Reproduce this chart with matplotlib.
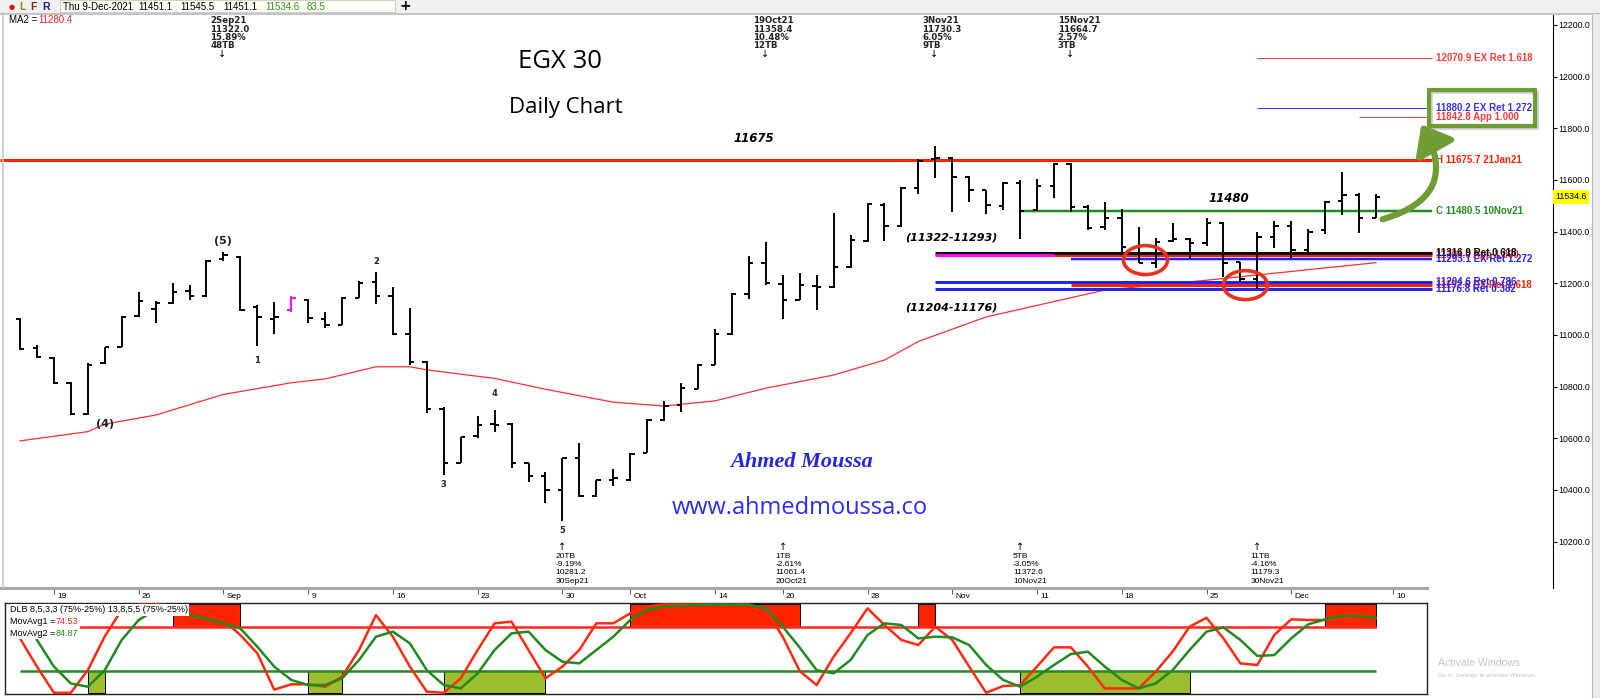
import matplotlib
matplotlib.use("Agg")
import matplotlib.pyplot as plt
from matplotlib.patches import Rectangle, Ellipse, FancyArrowPatch
from matplotlib.lines import Line2D
import matplotlib.transforms as mtransforms
import numpy as np

plt.rcParams['font.family'] = ['DejaVu Sans']

# ---------------- data ----------------
opens = [11060, 10950, 10910, 10815, 10695, 10890, 10955, 11075, 11100, 11125,
         11170, 11150, 11295, 11300, 11110, 11060, 11095, 11135, 11060, 11040,
         11145, 11205, 11150, 11005, 10895, 10715, 10505, 10610, 10655, 10655,
         10505, 10455, 10400, 10525, 10378, 10438, 10440, 10542, 10670, 10729,
         10790, 10885, 11005, 11160, 11280, 11197, 11135, 11190, 11185, 11262,
         11365, 11505, 11420, 11570, 11680, 11685, 11613, 11560, 11500, 11590,
         11482, 11575, 11660, 11497, 11417, 11454, 11342, 11280, 11365, 11372,
         11357, 11435, 11282, 11215, 11380, 11420, 11330, 11406, 11519, 11542,
         11451.1]
highs = [11066, 10961, 10916, 10819, 10890, 10955, 11074, 11165, 11132, 11200,
         11194, 11290, 11322.0, 11306, 11116, 11126, 11152, 11139, 11090, 11148,
         11210, 11245, 11185, 11103, 10899, 10720, 10606, 10686, 10710, 10658,
         10506, 10468, 10525, 10580, 10440, 10480, 10544, 10674, 10746, 10815,
         10887, 11022, 11161, 11306, 11358.4, 11232, 11239, 11232, 11471, 11387,
         11510, 11510, 11572, 11680, 11730.3, 11688, 11615, 11561, 11593, 11600,
         11603, 11667, 11664.7, 11503, 11516, 11487, 11419, 11374, 11432, 11374,
         11454, 11439, 11284, 11400, 11443, 11443, 11409, 11519, 11632, 11551,
         11545.5]
lows = [10942, 10910, 10810, 10690, 10690, 10887, 10952, 11068, 11045, 11120,
        11135, 11148, 11288, 11093, 10958, 11004, 11090, 11045, 11026, 11039,
        11142, 11120, 11000, 10884, 10697, 10458, 10503, 10600, 10626, 10486,
        10430, 10348, 10281.2, 10374, 10374, 10417, 10435, 10542, 10668, 10703,
        10790, 10884, 11000, 11138, 11194, 11061.4, 11135, 11097, 11181, 11258,
        11361, 11365, 11419, 11546, 11607, 11477, 11516, 11468, 11484, 11372.6,
        11481, 11529, 11477, 11406, 11406, 11316, 11277, 11258, 11361, 11293,
        11345, 11226, 11206, 11179.3, 11337, 11298, 11322, 11390, 11465, 11394,
        11451.1]
closes = [10945, 10915, 10815, 10695, 10885, 10952, 11070, 11130, 11125, 11165,
          11150, 11285, 11310, 11095, 11070, 11071, 11143, 11065, 11040, 11145,
          11200, 11150, 11005, 10895, 10715, 10505, 10605, 10650, 10650, 10505,
          10455, 10400, 10522, 10378, 10438, 10445, 10540, 10670, 10725, 10794,
          10885, 11005, 11158, 11280, 11200, 11135, 11194, 11185, 11262, 11368,
          11508, 11423, 11570, 11675, 11686, 11613, 11560, 11503, 11590, 11480.5,
          11575, 11660, 11497, 11413, 11454, 11342, 11280, 11360, 11372, 11357,
          11435, 11280, 11215, 11380, 11422, 11330, 11400, 11515, 11542, 11451.1,
          11534.6]
pink_bar = 16

ma_idx = [0, 4, 5, 8, 12, 16, 18, 21, 23, 24, 28, 31, 35, 38, 41, 44, 48, 51, 53, 57, 64, 70, 80]
ma_val = [10590, 10626, 10655, 10690, 10770, 10815, 10830, 10877, 10877, 10865, 10832, 10790,
          10740, 10725, 10745, 10794, 10845, 10903, 10975, 11070, 11174, 11212, 11280]

tick_idx = [2, 7, 12, 17, 22, 27, 32, 36, 41, 45, 50, 55, 60, 65, 70, 75, 81]
tick_lab = ['19', '26', 'Sep', '9', '16', '23', '30', 'Oct', '14', '20', '28', 'Nov',
            '11', '18', '25', 'Dec', '10']
y_ticks = [10200, 10400, 10600, 10800, 11000, 11200, 11400, 11600, 11800, 12000, 12200]

lvl_price = [12070.9, 11880.2, 11842.8, 11675.7, 11480.5, 11308.0, 11316.9, 11293.1,
             11192.6, 11204.6, 11176.8]
lvl_label = ["12070.9 EX Ret 1.618", "11880.2 EX Ret 1.272", "11842.8 App 1.000",
             "H 11675.7 21Jan21", "C 11480.5 10Nov21", "11308.0 App 1.000",
             "11316.9 Ret 0.618", "11293.1 EX Ret 1.272", "11192.6 EX Ret 1.618",
             "11204.6 Ret 0.786", "11176.8 Ret 0.382"]
lvl_start = [73, 73, 79, -2, 59, 61, 54, 62, 62, 54, 54]
lvl_color = ['#ff3b3b', '#3333ff', '#ff3b3b', '#ff2200', '#1f8f1f', '#ff2200', 'black',
             '#2222ff', '#ff2200', '#2222ff', '#2222ff']
lvl_lw = [1.0, 1.0, 1.0, 3.0, 2.5, 3.0, 3.0, 2.5, 3.0, 3.0, 3.0]
magenta_price = 11308.0
magenta_span = [54, 61]

top_ann_idx = [12, 44, 54, 62]
top_ann_txt = [["2Sep21", "11322.0", "15.89%", "48TB"],
               ["19Oct21", "11358.4", "10.48%", "12TB"],
               ["3Nov21", "11730.3", "6.05%", "9TB"],
               ["15Nov21", "11664.7", "2.57%", "3TB"]]
bot_ann_idx = [32, 45, 59, 73]
bot_ann_txt = [["20TB", "-9.19%", "10281.2", "30Sep21"],
               ["1TB", "-2.61%", "11061.4", "20Oct21"],
               ["5TB", "-3.05%", "11372.6", "10Nov21"],
               ["11TB", "-4.16%", "11179.3", "30Nov21"]]

wave_lab = ["(5)", "(4)", "1", "2", "3", "4", "5"]
wave_idx = [12, 5, 14, 21, 25, 28, 32]
wave_price = [11364, 10655, 10903, 11283, 10423, 10772, 10245]

ellipse_idx = [66.4, 72.3]
ellipse_price = [11290, 11193]

osc1 = [61.8, 30, 0.5, 0.5, 26, 64, 94, 100, 100, 99, 96, 90, 82.5, 65.6, 45, 4, 10, 10, 7.3,
        18.6, 48.7, 88, 63.7, 30, 1.7, 0.5, 16.7, 48.7, 78.8, 80.6, 48.7, 16.7, 30, 48.7, 78.8,
        78.8, 90, 98, 100, 100, 100, 100, 100, 100, 94, 63.7, 25, 9.2, 41, 67.5, 95.7, 76.9,
        60, 54.3, 75, 60, 30, 0.5, 8, 9.2, 30, 51.7, 51.7, 30, 5.4, 5.4, 5.4, 24.2, 46.8, 75,
        85, 61.8, 33.6, 31.8, 65.6, 83.3, 82.5, 82.5, 84, 80, 74.53]
osc2 = [np.nan, 60, 30, 11, 7.3, 26, 60, 82.5, 94, 92, 88, 84, 78.8, 73, 52.4, 30, 15, 9.2,
        9.2, 16.7, 37.4, 63.7, 69.4, 56.2, 26, 9.2, 5.4, 22.4, 48.7, 67.5, 69.4, 48.7, 35.5,
        33.6, 48.7, 63.7, 82.5, 93.8, 97.6, 98.3, 99.4, 100, 100, 99.4, 95.7, 75, 51.5, 26,
        22.4, 37.4, 65.6, 78.8, 76.9, 61.8, 63.7, 63, 54.3, 31.8, 15, 7.3, 18.6, 31.8, 44.2,
        46.8, 30, 15, 5.4, 11, 26, 48.7, 69.4, 74.2, 60, 42, 43, 61.8, 77.6, 83.3, 87.4,
        87.4, 84.87]
upper_lvl, lower_lvl = 75, 25
red_boxes = [(9, 13), (36, 46), (53, 54), (77, 80)]
green_boxes = [(4, 5), (17, 19), (25, 31), (59, 69)]

# ---------------- layout helpers ----------------
W, H = 1600, 698
fig = plt.figure(figsize=(16, 6.98), dpi=100)
fig.patch.set_facecolor('white')
X0, DX = 20.0, 16.95          # pixel of bar 0, pixel per bar
PY0, PPX = 25.0, 3.871        # pixel of 12200, price per pixel


def fx(px):
    return px / W


def fy(py):
    return 1 - py / H


def px2idx(px):
    return (px - X0) / DX


MAIN_T, MAIN_B, MAIN_R = 13, 588, 1553
ax = fig.add_axes([0, fy(MAIN_B), fx(MAIN_R), (MAIN_B - MAIN_T) / H])
ax.set_xlim(px2idx(0), px2idx(MAIN_R))
ax.set_ylim(12200 - (MAIN_B - PY0) * PPX, 12200 + (PY0 - MAIN_T) * PPX)
for s in ['top', 'left', 'bottom']:
    ax.spines[s].set_visible(False)
ax.spines['right'].set_color('black')
ax.spines['right'].set_linewidth(0.8)
ax.yaxis.tick_right()
ax.set_yticks(y_ticks)
ax.set_yticklabels([f"{v:.1f}" for v in y_ticks], fontsize=6.3,
                   family=['Liberation Sans', 'DejaVu Sans'])
ax.tick_params(axis='y', length=3, pad=1, width=0.8)
ax.set_xticks(tick_idx)
ax.set_xticklabels([])
ax.tick_params(axis='x', length=4, width=0.8, color='#606060', direction='out')
xt = ax.get_xaxis_transform()
for i, lab in zip(tick_idx, tick_lab):
    ax.text(i + 0.18, -9 / (MAIN_B - MAIN_T), lab, transform=xt, fontsize=6, ha='left',
            va='center', family=['Liberation Sans', 'DejaVu Sans'])

# bottom axis line & left border
fig.add_artist(Line2D([fx(0), fx(1427)], [fy(588), fy(588)], color='#a8a8a8', lw=2.2))
fig.add_artist(Line2D([fx(2.5), fx(2.5)], [fy(13), fy(588)], color='#c8c8c8', lw=1.2))

# ---------------- price panel ----------------
idx = np.arange(len(opens))
bcol = ['#ff00ff' if i == pink_bar else 'black' for i in idx]
ax.plot(ma_idx, ma_val, color='#ff3030', lw=0.9, zorder=2)

lvl_end = px2idx(1432)
for p, s, c, w in zip(lvl_price, lvl_start, lvl_color, lvl_lw):
    ax.hlines(p, max(s, px2idx(0)), lvl_end, color=c, lw=w * 0.72, zorder=2)
ax.hlines(magenta_price, magenta_span[0], magenta_span[1], color='#ff00ff', lw=2.2, zorder=2)

ax.vlines(idx, lows, highs, colors=bcol, lw=1.4, zorder=3)
ax.hlines(opens, idx - 0.26, idx, colors=bcol, lw=1.4, zorder=3)
ax.hlines(closes, idx, idx + 0.26, colors=bcol, lw=1.4, zorder=3)

lab_x = px2idx(1436)
for p, t, c in zip(lvl_price, lvl_label, lvl_color):
    ax.text(lab_x, p, t, color=c, fontsize=7, fontweight='bold', va='center', ha='left',
            family=['Liberation Sans', 'DejaVu Sans'], zorder=4)

# last price tag
ax.text(1.0015, closes[-1], f"{closes[-1]:.1f}", transform=ax.get_yaxis_transform(),
        fontsize=6.3, va='center', ha='left', family=['Liberation Sans', 'DejaVu Sans'],
        bbox=dict(boxstyle='square,pad=0.25', fc='#ffff00', ec='none'), clip_on=False)

# wave labels
for lab, i, p in zip(wave_lab, wave_idx, wave_price):
    big = lab.startswith('(')
    ax.text(i, p, lab, fontsize=8 if big else 6, fontweight='bold', ha='center', va='center',
            color='#222222')

# ellipses
for i, p in zip(ellipse_idx, ellipse_price):
    ax.add_patch(Ellipse((i, p), 2.6, 112, fill=False, ec='#e8331c', lw=2.6, zorder=5))

# top / bottom swing annotations
bt = mtransforms.blended_transform_factory(ax.transData, fig.transFigure)
top_y = [20.5, 29, 37.5, 46]
for i, lines in zip(top_ann_idx, top_ann_txt):
    for ln, py in zip(lines, top_y):
        ax.text(i - 0.77, fy(py), ln, transform=bt, fontsize=6.2, fontweight='bold',
                ha='left', va='center', color='#222222', clip_on=False)
    ax.text(i - 0.05, fy(53.5), "↓", transform=bt, fontsize=7, ha='center', va='center',
            clip_on=False)
bot_y = [556, 564.5, 573, 581.5]
for i, lines in zip(bot_ann_idx, bot_ann_txt):
    ax.text(i, fy(547), "↑", transform=bt, fontsize=7, ha='center', va='center', clip_on=False)
    for ln, py in zip(lines, bot_y):
        ax.text(i - 0.41, fy(py), ln, transform=bt, fontsize=6, ha='left', va='center',
                family=['Liberation Sans', 'DejaVu Sans'], clip_on=False)


def ftext(px, py, s, **kw):
    fig.text(fx(px), fy(py), s, **kw)


ftext(560, 62, "EGX 30", fontsize=18.5, ha='center', va='center', family=['Open Sans', 'DejaVu Sans'])
ftext(566, 108, "Daily Chart", fontsize=16, ha='center', va='center', family=['Open Sans', 'DejaVu Sans'])
ftext(754, 138, "11675", fontsize=8.5, fontweight='bold', style='italic', ha='center', va='center')
ftext(1229, 198, "11480", fontsize=8.5, fontweight='bold', style='italic', ha='center', va='center')
ftext(951, 238, "(11322-11293)", fontsize=8, fontweight='bold', style='italic', ha='center', va='center')
ftext(951, 307, "(11204-11176)", fontsize=8, fontweight='bold', style='italic', ha='center', va='center')
ftext(802, 462, "Ahmed Moussa", fontsize=16, fontweight='bold', style='italic', color='#2626e0',
      ha='center', va='center', family=['Liberation Serif', 'DejaVu Serif'])
ftext(800, 508, "www.ahmedmoussa.co", fontsize=17, color='#2b2bff', ha='center', va='center',
      family=['Open Sans', 'DejaVu Sans'])

# green target box and arrow
fig.add_artist(Rectangle((fx(1431), fy(128)), fx(106), 36 / H, transform=fig.transFigure,
                         fill=False, ec='#d0d0d0', lw=2))
fig.add_artist(Rectangle((fx(1429), fy(126)), fx(106), 36 / H, transform=fig.transFigure,
                         fill=False, ec='#6f9c35', lw=3))
fig.add_artist(FancyArrowPatch((fx(1380), fy(220)), (fx(1420), fy(122)), transform=fig.transFigure,
                               connectionstyle='arc3,rad=0.65',
                               arrowstyle='-|>,head_width=0.6,head_length=0.75',
                               mutation_scale=22, color='#6f9c35', lw=4.5))

# ---------------- header ----------------
fig.add_artist(Rectangle((0, fy(13)), 1, 13 / H, transform=fig.transFigure, fc='#f0f0f0', ec='none'))
fig.add_artist(Rectangle((fx(60), fy(12)), fx(335), 11.5 / H, transform=fig.transFigure,
                         fc='#fdfdf2', ec='#c8c8c8', lw=0.6))
fig.add_artist(Line2D([0, fx(1592)], [fy(13.5), fy(13.5)], color='#c4c4c4', lw=1.5))
hf = ['Liberation Sans', 'DejaVu Sans']
ftext(12, 6.5, "●", fontsize=5, color='#e01010', ha='center', va='center')
ftext(22, 6.5, "L", fontsize=7.5, fontweight='bold', color='#8a8a00', ha='center', va='center', family=hf)
ftext(33, 6.5, "F", fontsize=7.5, fontweight='bold', color='#8b1a1a', ha='center', va='center', family=hf)
ftext(46, 6.5, "R", fontsize=7.5, fontweight='bold', color='#1a1a8b', ha='center', va='center', family=hf)
hdr_vals = ["Thu 9-Dec-2021", "11451.1", "11545.5", "11451.1", "11534.6", "83.5"]
hdr_x = [63, 138, 180, 223, 265, 307]
hdr_c = ['black', 'black', 'black', 'black', '#2e962e', '#2e962e']
for s, x, c in zip(hdr_vals, hdr_x, hdr_c):
    ftext(x, 6.5, s, fontsize=7, color=c, ha='left', va='center', family=hf)
ftext(405, 6.5, "+", fontsize=10, fontweight='bold', ha='center', va='center')
ftext(9, 20, "MA2 =", fontsize=7, ha='left', va='center', family=hf)
ftext(38, 20, "11280.4", fontsize=7, color='#ff2020', ha='left', va='center', family=hf)

# right-side strip
fig.add_artist(Rectangle((fx(1592), 0), fx(8), fy(13), transform=fig.transFigure, fc='#ececec',
                         ec='#b8b8b8', lw=0.8))

# ---------------- oscillator panel ----------------
OT, OB, OL, OR = 603, 694, 5, 1427
ax2 = fig.add_axes([fx(OL), fy(OB), fx(OR - OL), (OB - OT) / H])
ax2.set_xlim(px2idx(OL), px2idx(OR))
ax2.set_ylim(-0.9, 101.7)
ax2.set_xticks([])
ax2.set_yticks([])
for s in ax2.spines.values():
    s.set_color('#222222')
    s.set_linewidth(1.0)
for a, b in red_boxes:
    ax2.add_patch(Rectangle((a, upper_lvl), b - a, 100.3 - upper_lvl, fc='#ff2200', ec='black',
                            lw=0.7, zorder=1))
for a, b in green_boxes:
    ax2.add_patch(Rectangle((a, 0), b - a, lower_lvl, fc='#9dbd2e', ec='black', lw=0.7, zorder=1))
n = len(osc1)
ax2.hlines(upper_lvl, 0, n - 1, color='#ff2a1a', lw=1.8, zorder=2)
ax2.hlines(lower_lvl, 0, n - 1, color='#1e8c1e', lw=1.8, zorder=2)
ax2.plot(np.arange(n), osc1, color='#ff2a10', lw=1.8, zorder=3)
ax2.plot(np.arange(n), osc2, color='#1f8a1f', lw=1.8, zorder=3)
lf = ['Liberation Sans', 'DejaVu Sans']
wbox = dict(boxstyle='square,pad=0.15', fc='white', ec='none')
ftext(10, 610, "DLB 8,5,3,3 (75%-25%) 13,8,5,5 (75%-25%)", fontsize=6.5, ha='left', va='center',
      family=lf, zorder=6, bbox=wbox)
ftext(10, 622, "MovAvg1 =", fontsize=6.5, ha='left', va='center', family=lf, zorder=6, bbox=wbox)
ftext(56, 622, "74.53", fontsize=6.5, ha='left', va='center', family=lf, color='#ff2020', zorder=6,
      bbox=wbox)
ftext(10, 633, "MovAvg2 =", fontsize=6.5, ha='left', va='center', family=lf, zorder=6, bbox=wbox)
ftext(56, 633, "84.87", fontsize=6.5, ha='left', va='center', family=lf, color='#1f8a1f', zorder=6,
      bbox=wbox)

ftext(1438, 663, "Activate Windows", fontsize=7.5, color='#c4c4c4', ha='left', va='center', family=lf)
ftext(1438, 675, "Go to Settings to activate Windows.", fontsize=4.5, color='#c4c4c4', ha='left',
      va='center', family=lf)

fig.savefig("out.png", dpi=100)
